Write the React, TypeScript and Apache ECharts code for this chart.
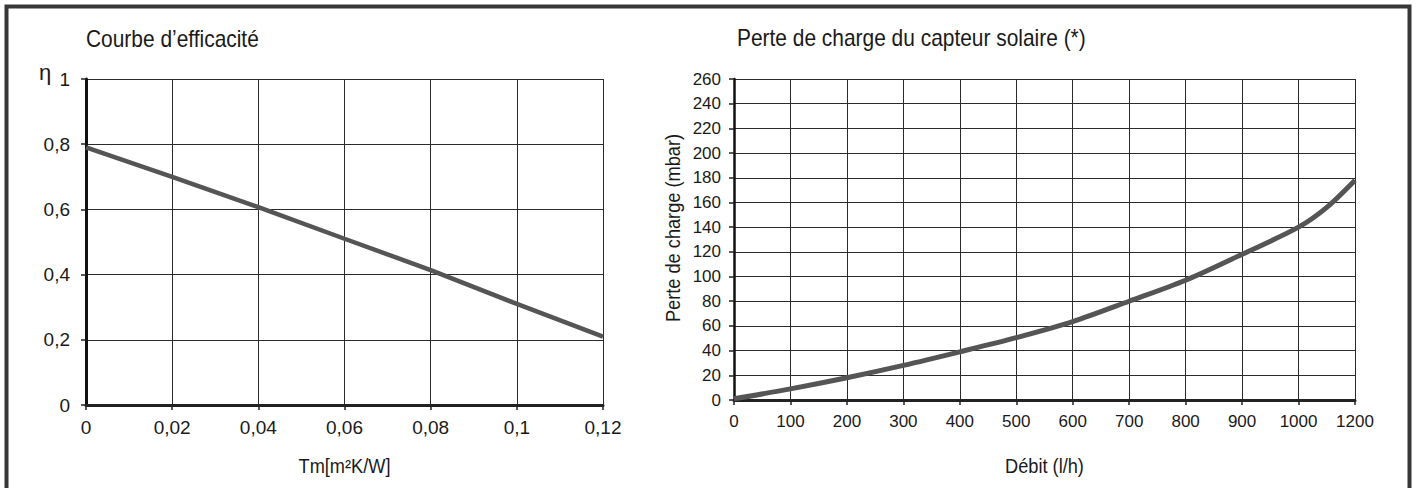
import React, { useEffect, useRef } from "react";
import * as echarts from "echarts";

// Left chart: efficiency curve
const effX = [0, 0.02, 0.04, 0.06, 0.08, 0.1, 0.12];
const effY = [0.79, 0.7, 0.607, 0.51, 0.414, 0.31, 0.21];
const effXTickLabels = ["0", "0,02", "0,04", "0,06", "0,08", "0,1", "0,12"];
const effYTickLabels = ["0", "0,2", "0,4", "0,6", "0,8", "1"];

// Right chart: pressure drop (x positions along the axis, last gridline is labelled 1200)
const flowPos = [0, 100, 200, 300, 400, 500, 600, 700, 800, 900, 1000, 1050, 1100];
const pressureDrop = [1, 9, 18, 28, 39, 50.5, 63.5, 80, 97, 118, 140, 156, 178];
const flowTickLabels = ["0", "100", "200", "300", "400", "500", "600", "700", "800", "900", "1000", "1200"];
const pressureTicks = [0, 20, 40, 60, 80, 100, 120, 140, 160, 180, 200, 220, 240, 260];

const FONT = '"Liberation Sans", Arial, Helvetica, sans-serif';
const TXT = "#1a1a1a";
const GRID = "#2b2b2b";

export default function App() {
  const ref = useRef<HTMLDivElement>(null);
  useEffect(() => {
    if (!ref.current) return;
    const chart = echarts.init(ref.current, undefined, { renderer: "svg" });
    const axisCommon = {
      splitLine: { show: true, lineStyle: { color: GRID, width: 1 } },
      axisTick: { show: true, length: 5, lineStyle: { color: "#222", width: 1.5 } },
    };
    chart.setOption({
      animation: false,
      backgroundColor: "#ffffff",
      grid: [
        { left: 86, top: 79, width: 517, height: 326 },
        { left: 734, top: 79, width: 621, height: 321 },
      ],
      xAxis: [
        {
          type: "value",
          gridIndex: 0,
          min: 0,
          max: 0.12,
          interval: 0.02,
          ...axisCommon,
          axisLine: { show: true, onZero: false, lineStyle: { color: "#222", width: 3 } },
          axisLabel: {
            margin: 13,
            fontSize: 19,
            color: TXT,
            fontFamily: FONT,
            formatter: (v: number) => effXTickLabels[Math.round(v / 0.02)] ?? "",
          },
        },
        {
          type: "value",
          gridIndex: 1,
          min: 0,
          max: 1100,
          interval: 100,
          ...axisCommon,
          axisLine: { show: true, onZero: false, lineStyle: { color: "#222", width: 3 } },
          axisLabel: {
            margin: 13,
            fontSize: 17,
            color: TXT,
            fontFamily: FONT,
            formatter: (v: number) => flowTickLabels[Math.round(v / 100)] ?? "",
          },
        },
      ],
      yAxis: [
        {
          type: "value",
          gridIndex: 0,
          min: 0,
          max: 1,
          interval: 0.2,
          ...axisCommon,
          axisLine: { show: true, onZero: false, lineStyle: { color: "#111", width: 3 } },
          axisLabel: {
            margin: 16,
            fontSize: 19,
            color: TXT,
            fontFamily: FONT,
            formatter: (v: number) => effYTickLabels[Math.round(v / 0.2)] ?? "",
          },
        },
        {
          type: "value",
          gridIndex: 1,
          min: pressureTicks[0],
          max: pressureTicks[pressureTicks.length - 1],
          interval: 20,
          ...axisCommon,
          axisLine: { show: true, onZero: false, lineStyle: { color: "#111", width: 2.5 } },
          axisLabel: {
            margin: 13,
            fontSize: 17,
            color: TXT,
            fontFamily: FONT,
          },
        },
      ],
      series: [
        {
          type: "line",
          xAxisIndex: 0,
          yAxisIndex: 0,
          data: effX.map((x, i) => [x, effY[i]]),
          showSymbol: false,
          lineStyle: { color: "#555555", width: 4.5 },
          z: 5,
        },
        {
          type: "line",
          xAxisIndex: 1,
          yAxisIndex: 1,
          data: flowPos.map((x, i) => [x, pressureDrop[i]]),
          showSymbol: false,
          smooth: 0.3,
          lineStyle: { color: "#555555", width: 5 },
          z: 5,
        },
      ],
      graphic: [
        {
          type: "rect",
          silent: true,
          z: 100,
          shape: { x: 6.5, y: 6.5, width: 1403, height: 600 },
          style: { fill: "none", stroke: "#383838", lineWidth: 4 },
        },
        {
          type: "text",
          x: 86,
          y: 38.7,
          scaleX: 0.91,
          style: { text: "Courbe d’efficacité", font: `23px ${FONT}`, fill: TXT, align: "left", verticalAlign: "middle" },
        },
        {
          type: "text",
          x: 737,
          y: 38.5,
          scaleX: 0.91,
          style: { text: "Perte de charge du capteur solaire (*)", font: `23px ${FONT}`, fill: TXT, align: "left", verticalAlign: "middle" },
        },
        {
          type: "text",
          x: 45,
          y: 72,
          style: { text: "η", font: `22px ${FONT}`, fill: TXT, align: "center", verticalAlign: "middle" },
        },
        {
          type: "text",
          x: 344.5,
          y: 466,
          scaleX: 0.91,
          style: { text: "Tm[m²K/W]", font: `20px ${FONT}`, fill: TXT, align: "center", verticalAlign: "middle" },
        },
        {
          type: "text",
          x: 1044.5,
          y: 466,
          scaleX: 0.91,
          style: { text: "Débit (l/h)", font: `20px ${FONT}`, fill: TXT, align: "center", verticalAlign: "middle" },
        },
        {
          type: "text",
          x: 673,
          y: 228,
          rotation: Math.PI / 2,
          scaleX: 0.91,
          style: { text: "Perte de charge (mbar)", font: `20px ${FONT}`, fill: TXT, align: "center", verticalAlign: "middle" },
        },
      ],
    });
    return () => chart.dispose();
  }, []);
  return (
    <div
      ref={ref}
      style={{ position: "fixed", left: 0, top: 0, width: 1416, height: 488, background: "#fff" }}
    />
  );
}
